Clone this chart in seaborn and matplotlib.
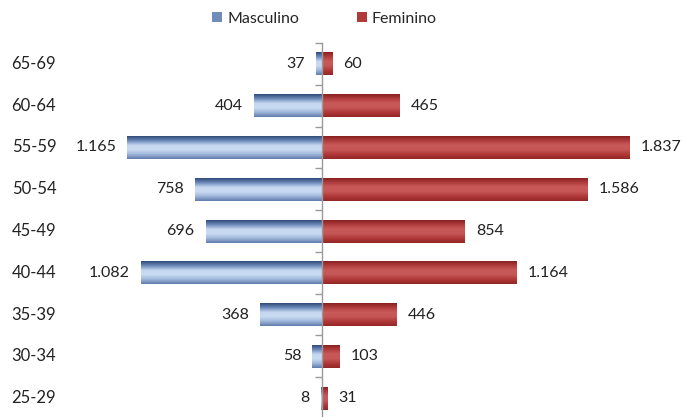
import numpy as np
import pandas as pd
import matplotlib
matplotlib.use("Agg")
import matplotlib.pyplot as plt
from matplotlib.colors import LinearSegmentedColormap
from matplotlib.patches import Rectangle
import seaborn as sns

# Age groups, top to bottom
faixas = ["65-69", "60-64", "55-59", "50-54", "45-49", "40-44", "35-39", "30-34", "25-29"]
masculino = [37, 404, 1165, 758, 696, 1082, 368, 58, 8]
feminino = [60, 465, 1837, 1586, 854, 1164, 446, 103, 31]
series = ["Masculino", "Feminino"]

sns.set_theme(style="white")
plt.rcParams["font.family"] = ["Lato", "DejaVu Sans"]

df = pd.DataFrame({
    "faixa": faixas * 2,
    "valor": [-v for v in masculino] + feminino,
    "sexo": [series[0]] * len(faixas) + [series[1]] * len(faixas),
})

fig = plt.figure(figsize=(6.83, 4.17), dpi=100)
ax = fig.add_axes([0.0, -0.005, 1.0, 0.902])

sns.barplot(data=df, y="faixa", x="valor", hue="sexo", order=faixas,
            hue_order=series, orient="h", dodge=False, width=0.55,
            palette=["#5a78a8", "#b03a3a"], legend=False, ax=ax, zorder=2)

# cylinder-like shading along the bar thickness
cmaps = {
    series[0]: LinearSegmentedColormap.from_list(
        "m", ["#2f4b7a", "#6f8cbb", "#c6d8f0", "#c9dbf2", "#9fb6da", "#5f7cab"]),
    series[1]: LinearSegmentedColormap.from_list(
        "f", ["#8a2020", "#b23e3e", "#c95a5a", "#c65656", "#b03838", "#942626"]),
}
grad = np.linspace(0, 1, 64).reshape(-1, 1)

ax.set_xlim(-1926, 2159)
ax.set_ylim(len(faixas) - 0.5, -0.5)

patches = list(ax.patches)
for i, p in enumerate(patches):
    name = series[0] if i < len(faixas) else series[1]
    x0, y0 = p.get_x(), p.get_y()
    w, h = p.get_width(), p.get_height()
    img = ax.imshow(grad, cmap=cmaps[name], aspect="auto", zorder=2,
                    extent=[x0, x0 + w, y0 + h, y0], interpolation="bilinear")
    img.set_clip_path(p)
    p.set_facecolor("none")
    p.set_edgecolor("none")

ax.set_xlim(-1926, 2159)
ax.set_ylim(len(faixas) - 0.5, -0.5)


def fmt(v):
    return f"{v:,}".replace(",", ".")


txt = "#222222"
for i, (m, f) in enumerate(zip(masculino, feminino)):
    ax.annotate(fmt(m), (-m, i), xytext=(-8, 0), textcoords="offset points",
                ha="right", va="center", fontsize=11.5, color=txt)
    ax.annotate(fmt(f), (f, i), xytext=(8, 0), textcoords="offset points",
                ha="left", va="center", fontsize=11.5, color=txt)
    ax.text(0.017, i, faixas[i], transform=ax.get_yaxis_transform(),
            ha="left", va="center", fontsize=12, color=txt)

# central axis with boundary ticks
for s in ["top", "right", "bottom"]:
    ax.spines[s].set_visible(False)
ax.spines["left"].set_position(("data", 0))
ax.spines["left"].set_color("#9a9a9a")
ax.spines["left"].set_linewidth(1.0)
ax.spines["left"].set_zorder(3)
ax.set_yticks(np.arange(len(faixas) + 1) - 0.5)
ax.set_yticklabels([])
ax.tick_params(axis="y", direction="out", length=5, width=1.0, color="#9a9a9a", left=True)
ax.set_xticks([])
ax.set_xlabel("")
ax.set_ylabel("")

# legend with shaded swatches
handles = [Rectangle((0, 0), 1, 1, facecolor="#6f8cbb", edgecolor="none"),
           Rectangle((0, 0), 1, 1, facecolor="#b03a3a", edgecolor="none")]
fig.legend(handles, series, loc="center", bbox_to_anchor=(0.475, 0.955), ncol=2,
           frameon=False, fontsize=11.5, handlelength=0.65, handleheight=0.65,
           handletextpad=0.3, columnspacing=3.6)

fig.savefig("out.png", dpi=100)
